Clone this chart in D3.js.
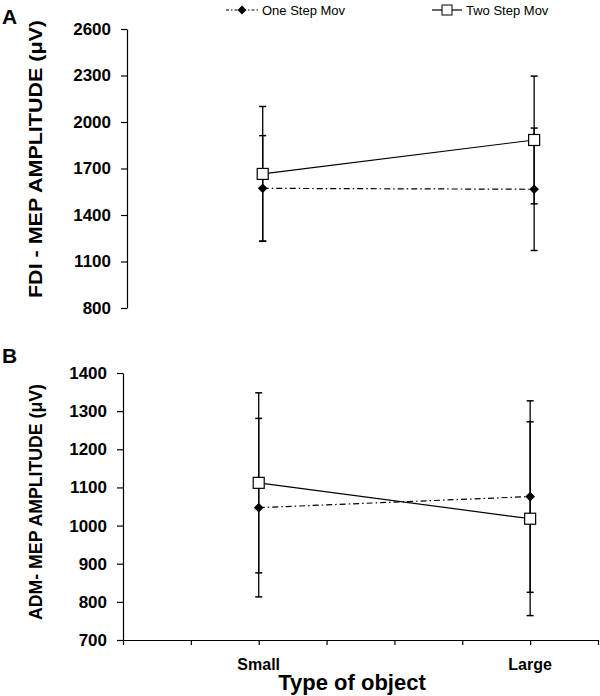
<!DOCTYPE html>
<html><head><meta charset="utf-8">
<script src="https://cdn.jsdelivr.net/npm/d3@7"></script>
<style>body{margin:0;background:#fff}svg{display:block}text{font-family:"Liberation Sans",Arial,sans-serif;}</style>
</head><body>
<script>
const categories = ["Small", "Large"];
const catPos = [2, 6];
const seriesNames = ["One Step Mov", "Two Step Mov"];
// Panel A (FDI)
const fdiOne = [1572, 1566];
const fdiOneErr = [340, 395];
const fdiTwo = [1665, 1884];
const fdiTwoErr = [435, 412];
const fdiTicks = [800, 1100, 1400, 1700, 2000, 2300, 2600];
// Panel B (ADM)
const admOne = [1047, 1076];
const admOneErr = [234, 251];
const admTwo = [1112, 1018];
const admTwoErr = [236, 254];
const admTicks = [700, 800, 900, 1000, 1100, 1200, 1300, 1400];

const W = 600, H = 696;
const svg = d3.select("body").append("svg").attr("width", W).attr("height", H);

function panel(cfg) {
  const y = d3.scaleLinear().domain(cfg.domain).range(cfg.yRange);
  const x = d3.scaleLinear().domain([0, 7]).range(cfg.xRange);
  const g = svg.append("g");
  const yAxis = g.append("g").attr("transform", `translate(${cfg.xRange[0]},0)`)
    .call(d3.axisLeft(y).tickValues(cfg.ticks).tickSize(6).tickSizeOuter(0).tickPadding(10).tickFormat(d3.format("d")));
  yAxis.select(".domain").attr("stroke", "#000").attr("stroke-width", 1.2);
  yAxis.selectAll(".tick line").attr("stroke", "#000").attr("stroke-width", 1.2);
  yAxis.selectAll(".tick text").attr("font-size", 17).attr("font-weight", "bold").attr("fill", "#000")
    .attr("font-family", "'Liberation Sans',Arial,sans-serif");
  if (cfg.xAxis) {
    const xa = g.append("g").attr("transform", `translate(0,${cfg.yRange[0]})`)
      .call(d3.axisBottom(x).tickValues(d3.range(0, 8)).tickSize(5).tickSizeOuter(0).tickFormat(""));
    xa.select(".domain").attr("stroke", "#000").attr("stroke-width", 1.2);
    xa.selectAll(".tick line").attr("stroke", "#000").attr("stroke-width", 1.2);
    g.selectAll(".catlab").data(categories).enter().append("text")
      .attr("x", (d, i) => x(catPos[i])).attr("y", cfg.yRange[0] + 30)
      .attr("text-anchor", "middle").attr("font-size", 16).attr("font-weight", "bold").text(d => d);
  }
  // y title
  g.append("text").attr("transform", `translate(${cfg.titleX},${cfg.titleY}) rotate(-90)`)
    .attr("text-anchor", "middle").attr("font-size", 18).attr("font-weight", "bold")
    .attr("textLength", cfg.titleLen).attr("lengthAdjust", "spacingAndGlyphs").text(cfg.title);
  // panel letter
  g.append("text").attr("x", 2).attr("y", cfg.letterY).attr("font-size", 21).attr("font-weight", "bold")
    .attr("font-family", "Arial,'Liberation Sans',sans-serif").text(cfg.letter);

  const series = [
    {vals: cfg.one, err: cfg.oneErr, dash: "6,3,1.5,3", marker: "diamond"},
    {vals: cfg.two, err: cfg.twoErr, dash: null, marker: "square"}
  ];
  // error bars
  series.forEach(s => {
    s.vals.forEach((v, i) => {
      const cx = x(catPos[i]);
      g.append("line").attr("x1", cx).attr("x2", cx).attr("y1", y(v - s.err[i])).attr("y2", y(v + s.err[i]))
        .attr("stroke", "#000").attr("stroke-width", 1.3);
      [v - s.err[i], v + s.err[i]].forEach(e => {
        g.append("line").attr("x1", cx - 3.5).attr("x2", cx + 3.5).attr("y1", y(e)).attr("y2", y(e))
          .attr("stroke", "#000").attr("stroke-width", 1.5);
      });
    });
  });
  const line = d3.line().x((d, i) => x(catPos[i])).y(d => y(d));
  series.forEach(s => {
    g.append("path").datum(s.vals).attr("d", line).attr("fill", "none").attr("stroke", "#000")
      .attr("stroke-width", 1.2).attr("stroke-dasharray", s.dash);
  });
  series.forEach(s => {
    s.vals.forEach((v, i) => {
      const cx = x(catPos[i]), cy = y(v);
      if (s.marker === "diamond") {
        g.append("path").attr("d", d3.symbol(d3.symbolDiamond2, 60)()).attr("transform", `translate(${cx},${cy})`)
          .attr("fill", "#000");
      } else {
        g.append("rect").attr("x", cx - 5.5).attr("y", cy - 5.5).attr("width", 11).attr("height", 11)
          .attr("fill", "#fff").attr("stroke", "#000").attr("stroke-width", 1.2);
      }
    });
  });
}

panel({domain: [800, 2600], yRange: [308, 29], xRange: [127, 602], ticks: fdiTicks,
  one: fdiOne, oneErr: fdiOneErr, two: fdiTwo, twoErr: fdiTwoErr, xAxis: false,
  title: "FDI - MEP AMPLITUDE (\u03bcV)", titleX: 42, titleY: 159, titleLen: 278, letter: "A", letterY: 24});
panel({domain: [700, 1400], yRange: [640, 373], xRange: [123, 598], ticks: admTicks,
  one: admOne, oneErr: admOneErr, two: admTwo, twoErr: admTwoErr, xAxis: true,
  title: "ADM- MEP AMPLITUDE (\u03bcV)", titleX: 42, titleY: 502, titleLen: 236, letter: "B", letterY: 363});

// x title
svg.append("text").attr("x", 352).attr("y", 690).attr("text-anchor", "middle").attr("font-size", 22)
  .attr("font-weight", "bold").text("Type of object");

// legend
const lg = svg.append("g");
lg.append("line").attr("x1", 226).attr("x2", 258).attr("y1", 10).attr("y2", 10).attr("stroke", "#000")
  .attr("stroke-width", 1.2).attr("stroke-dasharray", "3,2,1.5,2");
lg.append("path").attr("d", d3.symbol(d3.symbolDiamond2, 50)()).attr("transform", "translate(242,10)").attr("fill", "#000");
lg.append("text").attr("x", 262).attr("y", 15).attr("font-size", 13).text(seriesNames[0]);
lg.append("line").attr("x1", 432).attr("x2", 462).attr("y1", 10).attr("y2", 10).attr("stroke", "#000").attr("stroke-width", 1.2);
lg.append("rect").attr("x", 442).attr("y", 5).attr("width", 10).attr("height", 10).attr("fill", "#fff").attr("stroke", "#000");
lg.append("text").attr("x", 466).attr("y", 15).attr("font-size", 13).text(seriesNames[1]);
</script>
</body></html>
